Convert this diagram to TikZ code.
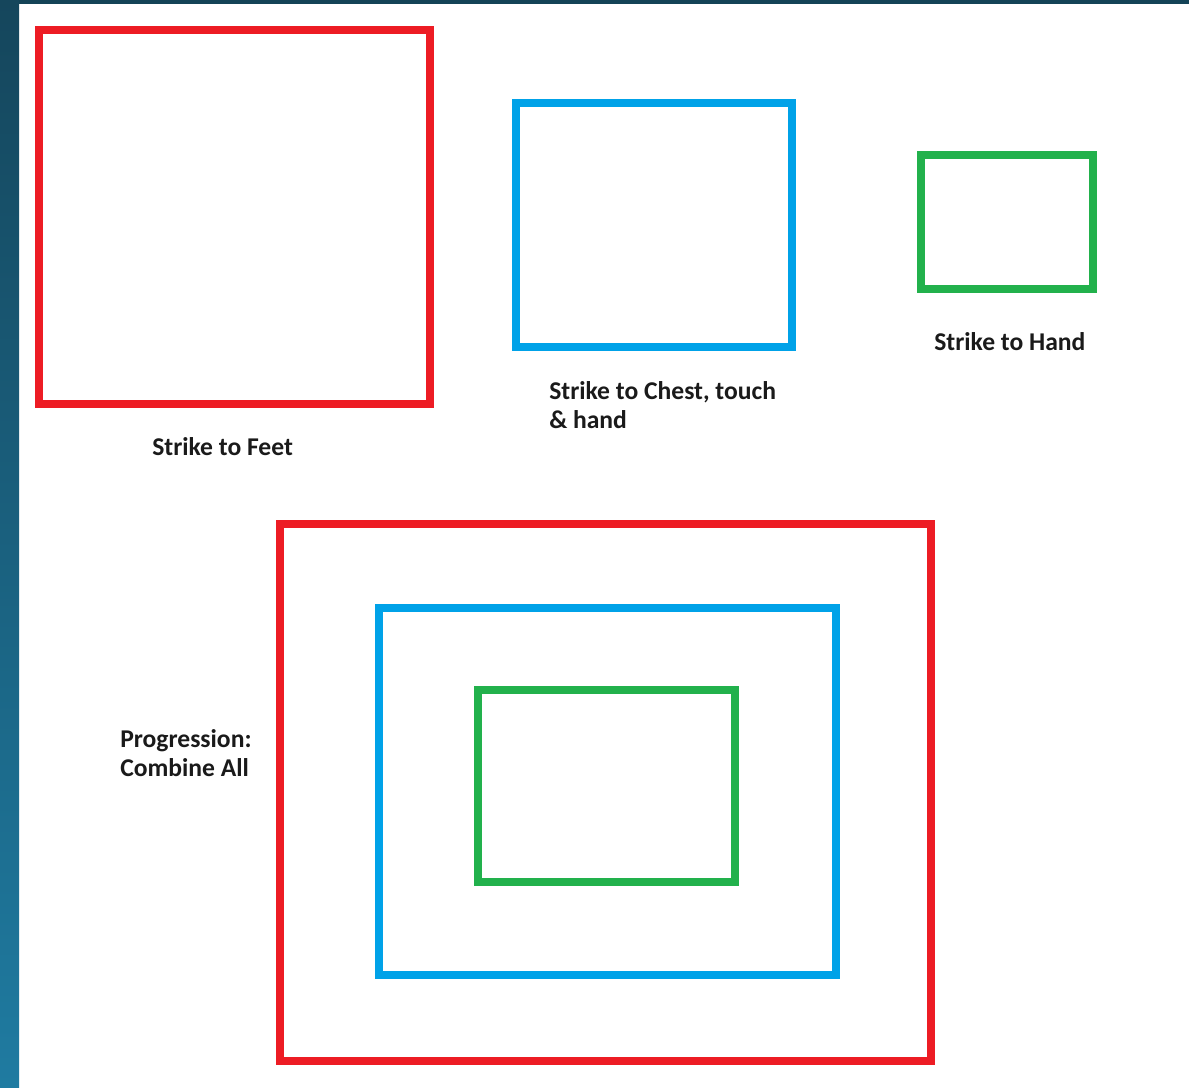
\documentclass[tikz,border=0pt]{standalone}
\usepackage{fontspec}
\setmainfont{Carlito}
\definecolor{pred}{HTML}{ED1C24}
\definecolor{pblue}{HTML}{00A2E8}
\definecolor{pgreen}{HTML}{22B14C}
\definecolor{bgtop}{HTML}{15465C}
\definecolor{bgbot}{HTML}{1F7BA1}
\definecolor{txt}{HTML}{1A1A1A}
\tikzset{
  frame/.style={line width=6pt, line join=miter},
  redframe/.style={frame, draw=pred},
  blueframe/.style={frame, draw=pblue},
  greenframe/.style={frame, draw=pgreen},
  lbl/.style={inner sep=0pt, anchor=base west, align=left, text=txt,
    font=\fontsize{19.2}{21.4}\selectfont\bfseries}
}
\begin{document}
\begin{tikzpicture}[x=0.75pt,y=-0.75pt]
\useasboundingbox (0,0) rectangle (1189,1088);
\fill[white] (0,0) rectangle (1189,1088);
% window edges
\shade[top color=bgtop, bottom color=bgbot] (0,0) rectangle (19,1088);
\fill[bgtop!95!black] (19,0) rectangle (1189,4);
% top row
\draw[redframe] (38.5,30.5) rectangle (430,403.5);
\draw[blueframe] (515.5,103.5) rectangle (791.5,346.5);
\draw[greenframe] (920.5,154.5) rectangle (1092.5,289);
% bottom nested
\draw[redframe] (279.5,523.5) rectangle (931,1061);
\draw[blueframe] (378.5,607.5) rectangle (835.5,975);
\draw[greenframe] (477.5,689.5) rectangle (735,882);
% labels
\node[lbl] (feet) at (152,455) {Strike to Feet};
\node[lbl] (chest) at (549,428) {Strike to Chest, touch\\\& hand};
\node[lbl] (hand) at (934,350) {Strike to Hand};
\node[lbl] (prog) at (120,776) {Progression:\\Combine All};
\end{tikzpicture}
\end{document}
